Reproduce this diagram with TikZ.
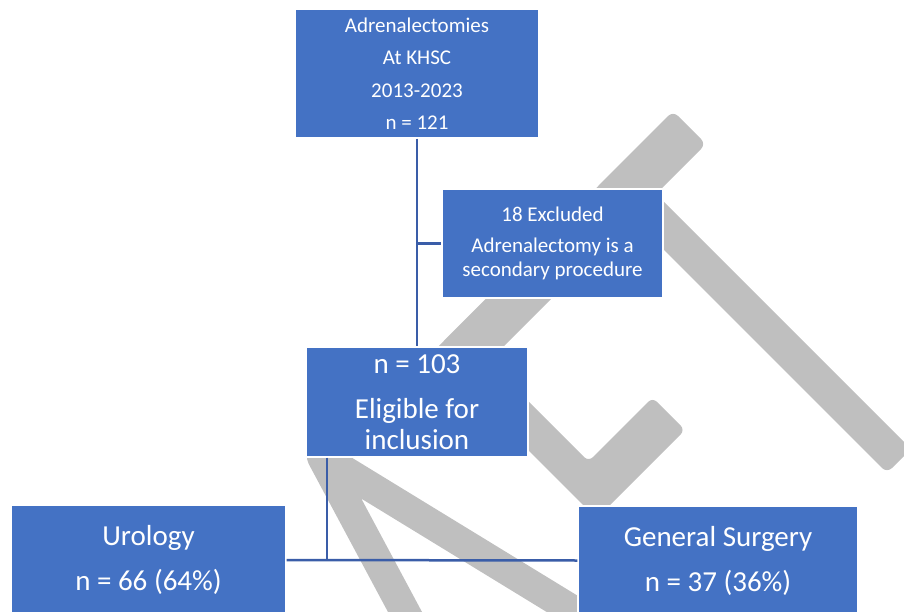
\documentclass[tikz,border=0pt]{standalone}
\usepackage{fontspec}
\setmainfont{Carlito}
\definecolor{boxblue}{HTML}{4472C4}
\definecolor{lineblue}{HTML}{3A5DA8}
\definecolor{markgray}{HTML}{BFBFBF}
\begin{document}
\begin{tikzpicture}[x=1pt,y=-1pt,
  box/.style={draw=white, line width=1.2pt, fill=boxblue, text=white, align=center, inner sep=0pt},
  conn/.style={draw=lineblue, line width=2.5pt},
  grayband/.style={fill=markgray, draw=none}]
\useasboundingbox (0,0) rectangle (904,612);
\clip (0,0) rectangle (904,612);
% gray strokes (behind everything)
\fill[grayband, rounded corners=7pt] (364,421) -- (673,111) -- (706,144) -- (396,454) -- cycle;
\fill[grayband, rounded corners=7pt] (615,201) -- (639,177) -- (911,449) -- (887,473) -- cycle;
\fill[grayband, rounded corners=6pt] (468,390) -- (492.5,365.5) -- (588.5,461.5) -- (652.5,397.5) -- (685,430) -- (596.5,518.5) -- cycle;
\draw[draw=markgray, line width=30pt, line join=round] (420,640) -- (322,457) -- (600,627);
% boxes
\node[box, minimum width=244pt, minimum height=129pt, font=\fontsize{21}{32.5}\selectfont] (top) at (417,73.5) {Adrenalectomies\\At KHSC\\2013-2023\\n = 121};
\node[box, minimum width=221pt, minimum height=109pt, font=\fontsize{21}{24}\selectfont] (excl) at (552.5,243.5) {18 Excluded\\[7pt]Adrenalectomy is a\\secondary procedure};
\node[box, minimum width=222pt, minimum height=110pt, font=\fontsize{29}{31}\selectfont] (elig) at (417,402) {n = 103\\[14pt]Eligible for\\inclusion};
\node[box, minimum width=275pt, minimum height=110pt, font=\fontsize{29}{45}\selectfont] (uro) at (148.5,560) {Urology\\n = 66 (64\%)};
\node[box, minimum width=280pt, minimum height=109pt, font=\fontsize{29}{45}\selectfont] (gs) at (718,560.5) {General Surgery\\n = 37 (36\%)};
% connectors
\draw[conn] (top.south) -- (elig.north);
\coordinate (jx) at (top.south |- excl.west);
\draw[conn] (jx) -- (excl.west);
\coordinate (e1) at ([xshift=-90pt]elig.south);
\coordinate (e2) at (e1 |- uro.east);
\draw[conn] (e1) -- (e2);
\draw[conn] (uro.east) -- (gs.west);
\end{tikzpicture}
\end{document}
